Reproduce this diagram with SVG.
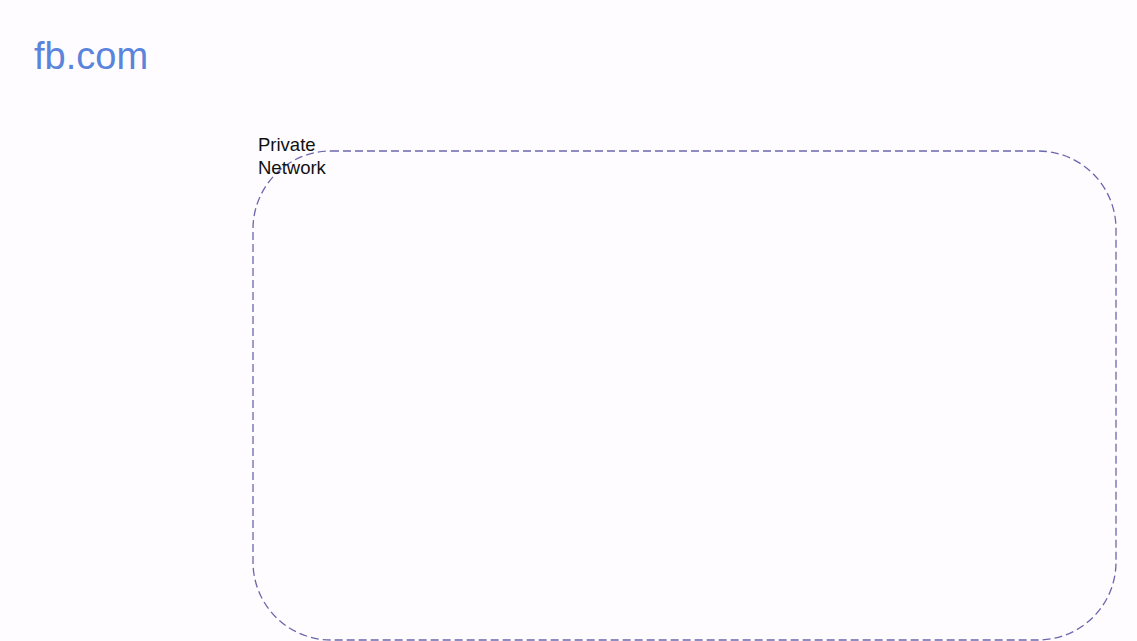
<svg xmlns="http://www.w3.org/2000/svg" width="1137" height="641" viewBox="0 0 1137 641">
<style>
.title{font-family:"Liberation Sans",Arial,sans-serif;font-size:38px;fill:#5b84dc}
.lbl{font-family:"Liberation Sans",Arial,sans-serif;font-size:18.5px;fill:#111}
.zone{fill:none;stroke:#6b67ad;stroke-width:1.3;stroke-dasharray:8 4}
</style>
<rect width="1137" height="641" fill="#fefcfe"/>
<g id="title"><text class="title" x="34" y="69">fb.com</text></g>
<g id="private-network">
<rect class="zone" x="253" y="151" width="863" height="489" rx="78" ry="78"/>
<text class="lbl" x="258" y="151">Private</text>
<text class="lbl" x="258" y="174">Network</text>
</g>
<g id="connectors"></g>
</svg>
